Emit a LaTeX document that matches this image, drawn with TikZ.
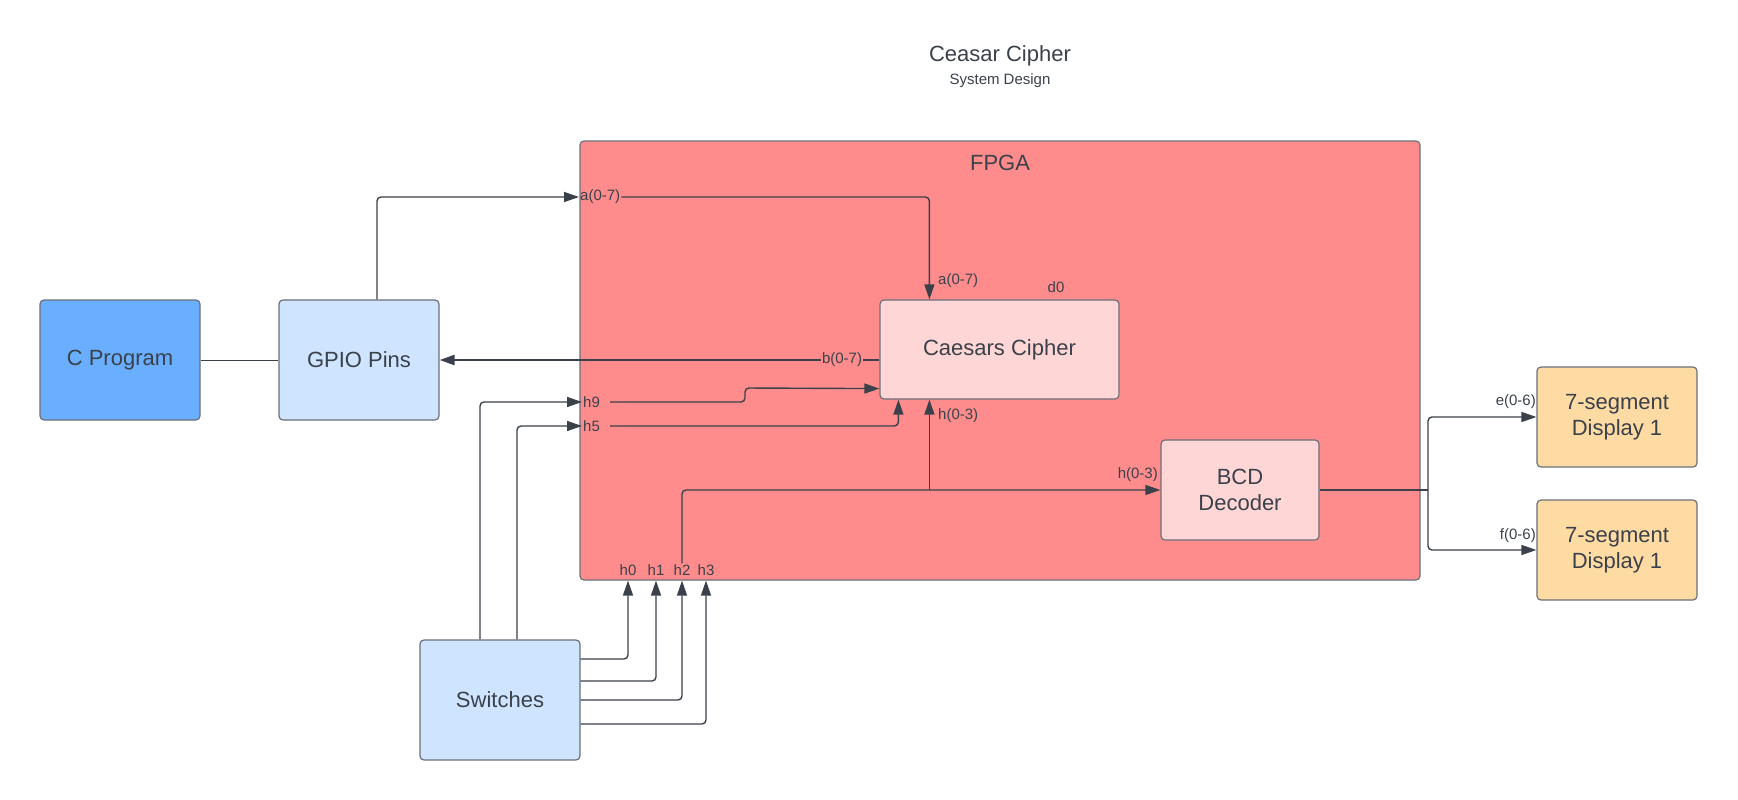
\documentclass[tikz,border=0pt]{standalone}
\usepackage{fontspec}
\setmainfont{Liberation Sans}
\usetikzlibrary{arrows.meta}
\definecolor{ink}{HTML}{3A414A}
\definecolor{edge}{HTML}{6B7079}
\definecolor{fpgared}{HTML}{FF8C8C}
\definecolor{cblue}{HTML}{6AAEFF}
\definecolor{lblue}{HTML}{CFE4FF}
\definecolor{pinkbox}{HTML}{FFD6D6}
\definecolor{segorange}{HTML}{FFDBA4}
\tikzset{
	blk/.style={draw=edge,line width=1.2pt,rounded corners=4pt,text=ink,font=\fontsize{22}{26.5}\selectfont,align=center,inner sep=0pt},
	lbl/.style={text=ink,font=\fontsize{15}{18}\selectfont,inner sep=1pt},
	wire/.style={draw=ink,line width=1.4pt,rounded corners=4pt},
	arr/.style={wire,-{Triangle[length=15pt,width=10pt]}},
}
\begin{document}
\begin{tikzpicture}[x=1pt,y=-1pt]
		\useasboundingbox (0,0) rectangle (1738,800);
		\node[text=ink,font=\fontsize{22}{26}\selectfont] (title) at (1000,56) {Ceasar Cipher};
		\node[text=ink,font=\fontsize{15}{18}\selectfont] (subtitle) at (1000,81) {System Design};
		% outer board and blocks
		\node[blk,fill=fpgared,minimum width=840pt,minimum height=439pt] (fpga) at (1000,360.5) {};
		\node[text=ink,font=\fontsize{22}{26}\selectfont] (fpgalbl) at (1000,163) {FPGA};
		\node[blk,fill=cblue,minimum width=160pt,minimum height=120pt] (cprog) at (120,360) {C Program};
		\node[blk,fill=lblue,minimum width=160pt,minimum height=120pt] (gpio) at (359,360) {GPIO Pins};
		\node[blk,fill=pinkbox,minimum width=239pt,minimum height=99pt] (caesar) at (999.5,349.5) {Caesars Cipher};
		\node[blk,fill=pinkbox,minimum width=158pt,minimum height=100pt] (bcd) at (1240,490) {BCD\\Decoder};
		\node[blk,fill=segorange,minimum width=160pt,minimum height=100pt] (segA) at (1617,417) {7-segment\\Display 1};
		\node[blk,fill=segorange,minimum width=160pt,minimum height=100pt] (segB) at (1617,550) {7-segment\\Display 1};
		\node[blk,fill=lblue,minimum width=160pt,minimum height=120pt] (sw) at (500,700) {Switches};
		% pin labels
		\node[lbl,anchor=west] (ain) at (579,197) {a(0-7)};\node[lbl,anchor=west] (acc) at (937,281) {a(0-7)};
		\node[lbl] (dzero) at (1056,287) {d0};
		\node[lbl,anchor=west] (hnine) at (582,402) {h9};\node[lbl,anchor=west] (hfive) at (582,426) {h5};
		\node[lbl,anchor=west] (hcc) at (937,416) {h(0-3)};\node[lbl,anchor=east] (hbcd) at (1159,475) {h(0-3)};
		\node[lbl,anchor=east] (eout) at (1537,402) {e(0-6)};\node[lbl,anchor=east] (fout) at (1537,536) {f(0-6)};
		% connectors
		\draw[wire,line width=1pt] (cprog.east) -- (gpio.west);
		\draw[arr] ([xshift=18pt]gpio.north) |- (ain.west);
		\draw[arr] (ain.east) -| ([xshift=50pt]caesar.north west);
		\draw[arr,line width=2.4pt] (caesar.west |- gpio.east) -- (gpio.east);
		\node[lbl,fill=fpgared] (bout) at (842,360) {b(0-7)};
		\draw[arr] ([xshift=-20pt]sw.north) |- (hnine.west);
		\draw[arr] ([xshift=17pt]sw.north) |- (hfive.west);
		\draw[arr] (610,402) -- (745,402) -- (745,388) -- ([yshift=11pt]caesar.south west);
		\draw[arr] (610,426) -| ([xshift=19pt]caesar.south west);
		\foreach \i/\x/\y in {0/628/659,1/656/681,2/682/700,3/706/724}{
			\node[lbl] (hb\i) at (\x,570) {h\i};
			\draw[arr] (sw.east |- 0,\y) -| (hb\i |- fpga.south);
		}
		\draw[arr] (hb2.north) |- (bcd.west);
		\coordinate (tap) at ([xshift=50pt]caesar.south west |- bcd.west);
		\draw[arr] (tap) -- (tap |- caesar.south);
		\coordinate (split) at (1428,490);
		\draw[wire] (bcd.east) -- (split);
		\draw[arr] (split) |- (segA.west);\draw[arr] (split) |- (segB.west);
	\end{tikzpicture}
\end{document}
